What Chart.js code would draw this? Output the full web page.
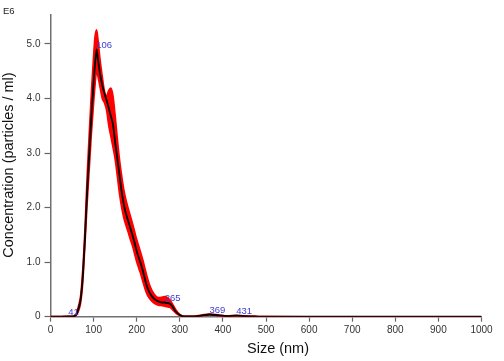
<!DOCTYPE html>
<html>
<head>
<meta charset="utf-8">
<script src="https://cdn.jsdelivr.net/npm/chart.js@4/dist/chart.umd.min.js"></script>
<style>
  html, body { margin: 0; padding: 0; background: #ffffff; }
  #wrap { width: 504px; height: 361px; position: relative; }
</style>
</head>
<body>
<div id="wrap"><canvas id="c" width="504" height="361"></canvas></div>
<script>
// ---- data ----
const sizes = [0,20,40,50,55,60,65,70,75,78,80,85,90,95,100,103,107,110,115,120,125,130,135,140,145,150,155,160,165,170,175,180,185,190,195,200,205,210,215,220,225,230,240,250,260,265,270,277,285,290,300,310,330,350,369,390,410,431,450,480,500,600,700,800,900,1000];
const meanConc = [0,0,0.005,0.005,0.01,0.04,0.15,0.32,0.75,1.16,1.45,2.3,3.0,3.7,4.3,4.6,4.9,4.72,4.45,4.25,4.1,3.97,3.83,3.68,3.52,3.2,2.9,2.6,2.3,2.06,1.89,1.76,1.63,1.5,1.36,1.2,1.08,0.96,0.82,0.66,0.53,0.44,0.33,0.28,0.26,0.26,0.25,0.24,0.16,0.1,0.03,0.005,0.005,0.02,0.04,0.025,0.01,0.02,0.01,0.003,0,0,0,0,0,0];
const upperConc = [0.003,0.003,0.01,0.01,0.02,0.06,0.2,0.4,0.9,1.32,1.65,2.6,3.4,4.15,4.8,5.12,5.26,5.1,4.72,4.42,4.15,4.05,4.15,4.19,4.05,3.7,3.28,2.9,2.6,2.34,2.15,2.0,1.86,1.72,1.57,1.42,1.29,1.16,1.02,0.86,0.71,0.58,0.42,0.35,0.36,0.37,0.36,0.31,0.21,0.14,0.045,0.01,0.01,0.03,0.05,0.035,0.018,0.028,0.016,0.006,0.002,0.001,0.001,0.001,0.001,0.001];
const lowerConc = [0,0,0.001,0.001,0.003,0.025,0.1,0.25,0.62,1.02,1.3,2.05,2.7,3.35,3.9,4.2,4.5,4.4,4.2,4.0,3.92,3.78,3.5,3.3,3.1,2.88,2.57,2.25,2.0,1.81,1.67,1.55,1.42,1.3,1.15,1.0,0.88,0.76,0.62,0.49,0.39,0.33,0.25,0.21,0.2,0.19,0.18,0.17,0.11,0.07,0.02,0.002,0.002,0.012,0.03,0.018,0.005,0.013,0.005,0.001,0,0,0,0,0,0];
const peakSizes = [41,106,265,369,431];
const peakValues = [0.005,4.9,0.26,0.04,0.02];
const xTicks = [0,100,200,300,400,500,600,700,800,900,1000];
const yTicks = [0,1,2,3,4,5];

const FONT = '"Liberation Sans", Arial, sans-serif';
const toPts = (ys) => sizes.map((s, i) => ({x: s, y: ys[i]}));

const overlay = {
  id: 'overlay',
  afterDraw(chart) {
    const ctx = chart.ctx;
    const xs = chart.scales.x, ys = chart.scales.y;
    ctx.save();
    // peak labels
    ctx.fillStyle = '#3c3cd2';
    ctx.font = '9.5px ' + FONT;
    ctx.textAlign = 'left';
    ctx.textBaseline = 'alphabetic';
    peakSizes.forEach((s, i) => {
      ctx.fillText(String(s), xs.getPixelForValue(s), ys.getPixelForValue(peakValues[i]) - 1.5);
    });
    // multiplier
    ctx.fillStyle = '#222';
    ctx.font = '9.5px ' + FONT;
    ctx.textBaseline = 'middle';
    ctx.fillText('E6', 3, 11);
    // axis titles
    ctx.fillStyle = '#111';
    ctx.font = '14.5px ' + FONT;
    ctx.textAlign = 'center';
    ctx.fillText('Size (nm)', 278, 349);
    ctx.translate(9, 165);
    ctx.rotate(-Math.PI / 2);
    ctx.fillText('Concentration (particles / ml)', 0, 0);
    ctx.restore();
  }
};

new Chart(document.getElementById('c'), {
  type: 'line',
  data: {
    datasets: [
      { label: 'mean', data: toPts(meanConc), borderColor: '#000000', borderWidth: 1.8, pointRadius: 0, fill: false, cubicInterpolationMode: 'monotone' },
      { label: 'upper', data: toPts(upperConc), borderColor: '#ff0000', borderWidth: 1.5, pointRadius: 0, backgroundColor: '#ff0000', fill: '+1', cubicInterpolationMode: 'monotone' },
      { label: 'lower', data: toPts(lowerConc), borderColor: '#ff0000', borderWidth: 1.5, pointRadius: 0, fill: false, cubicInterpolationMode: 'monotone' }
    ]
  },
  options: {
    responsive: false,
    animation: false,
    devicePixelRatio: 1,
    layout: { padding: { top: 15, right: 22.5, left: 0, bottom: 0 } },
    plugins: { legend: { display: false }, tooltip: { enabled: false } },
    scales: {
      x: {
        type: 'linear', min: 0, max: 1000,
        afterFit: (s) => { s.height = 44.3; },
        afterBuildTicks: (s) => { s.ticks = xTicks.map(v => ({value: v})); },
        grid: { display: true, drawOnChartArea: false, drawTicks: true, tickLength: 5, tickColor: '#666', tickWidth: 1.2 },
        border: { display: true, color: '#707070', width: 1.5 },
        ticks: { color: '#333', font: { size: 10, family: FONT }, padding: 3, maxRotation: 0, callback: (v) => String(v) }
      },
      y: {
        type: 'linear', min: 0, max: 5.53,
        afterFit: (s) => { s.width = 50.5; },
        afterBuildTicks: (s) => { s.ticks = yTicks.map(v => ({value: v})); },
        grid: { display: true, drawOnChartArea: false, drawTicks: true, tickLength: 6, tickColor: '#666', tickWidth: 1.2 },
        border: { display: true, color: '#707070', width: 1.5 },
        ticks: { color: '#333', font: { size: 10, family: FONT }, padding: 4, callback: (v) => v === 0 ? '0' : v.toFixed(1) }
      }
    }
  },
  plugins: [overlay]
});
</script>
</body>
</html>
